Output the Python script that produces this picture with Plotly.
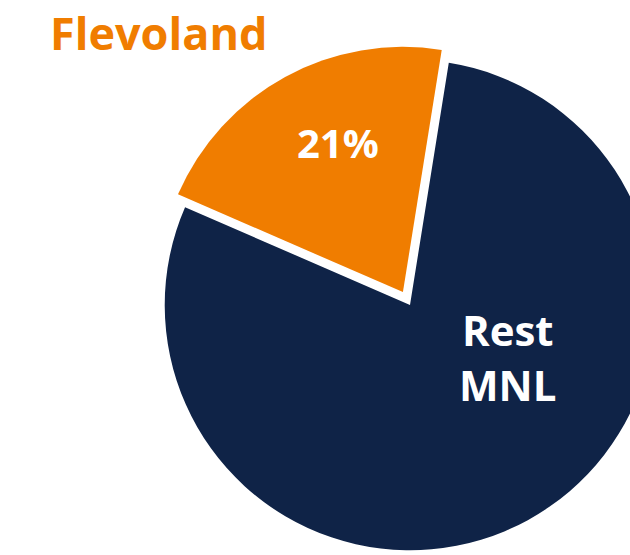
import plotly.graph_objects as go

# ---- data ----
labels = ["Flevoland", "Rest MNL"]
values = [21, 79]
colors = ["#F07D00", "#0F2347"]

# figure is a bit larger than the window so the pie is cropped like the reference
W, H = 670, 565


def px(x, y):
    # window pixel -> paper coords
    return x / W, 1 - y / H


fig = go.Figure(
    go.Pie(
        labels=labels,
        values=values,
        sort=False,
        direction="clockwise",
        rotation=-66.5,
        pull=[0.06, 0],
        marker=dict(colors=colors, line=dict(width=0)),
        textinfo="none",
        hoverinfo="skip",
        domain=dict(x=[150 / W, 1], y=[0, 1 - 45 / H]),
        showlegend=False,
    )
)

total = sum(values)
pct = f"{round(100 * values[0] / total)}%"

ann = []
x, y = px(158, 32)
ann.append(dict(x=x, y=y, text=labels[0], font=dict(color=colors[0], size=45, family="Open Sans", weight=700)))
x, y = px(338, 142)
ann.append(dict(x=x, y=y, text=pct, font=dict(color="white", size=40, family="Open Sans", weight=700)))
x, y = px(508, 357)
ann.append(dict(x=x, y=y, text=labels[1].replace(" ", "<br>"), font=dict(color="white", size=42, family="Open Sans", weight=700)))
for a in ann:
    a.update(xref="paper", yref="paper", showarrow=False, xanchor="center", yanchor="middle")

fig.update_layout(
    width=W,
    height=H,
    margin=dict(l=0, r=0, t=0, b=0),
    paper_bgcolor="white",
    plot_bgcolor="white",
    annotations=ann,
)

fig.write_html(
    "out.html",
    config={"displayModeBar": False},
    post_script="document.body.style.margin='0';document.documentElement.style.overflow='hidden';",
)
